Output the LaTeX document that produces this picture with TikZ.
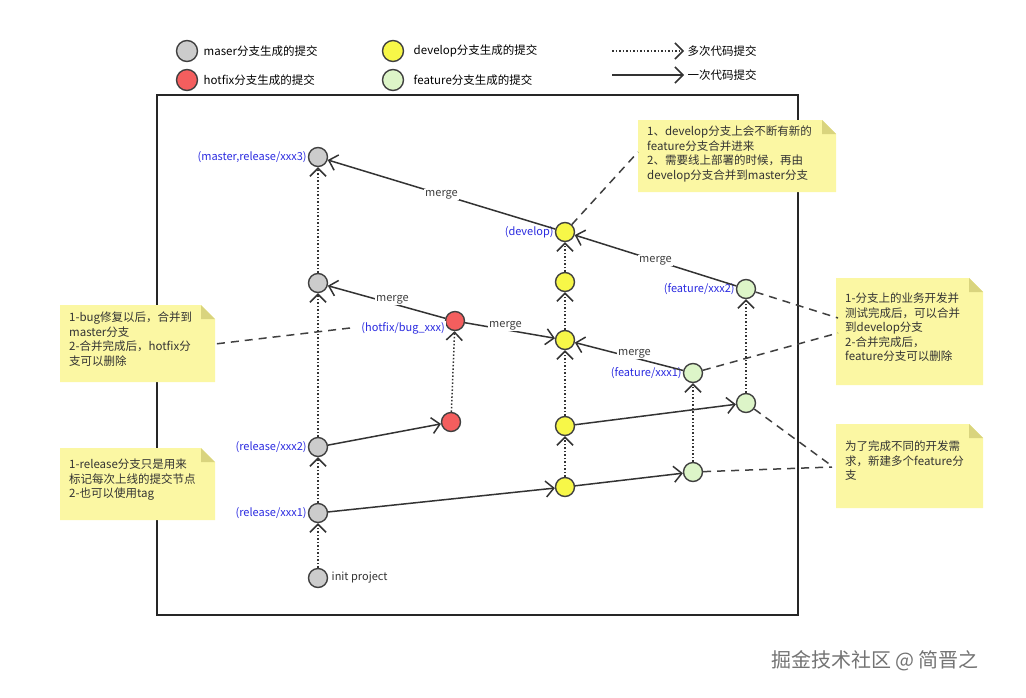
\documentclass[tikz,border=0pt]{standalone}
\usepackage{fontspec}
\setmainfont{Noto Sans CJK SC}
\usetikzlibrary{arrows.meta,shapes.geometric}
\definecolor{notey}{HTML}{FBF7A3}
\definecolor{notefold}{HTML}{D9D47E}
\definecolor{gcirc}{HTML}{CCCCCC}
\definecolor{ycirc}{HTML}{F7F748}
\definecolor{rcirc}{HTML}{F45E5E}
\definecolor{fcirc}{HTML}{DDF5C8}
\definecolor{tagblue}{HTML}{2B2BE0}
\tikzset{
  commit/.style={circle,draw=black!75,line width=1.4pt,minimum size=19pt,inner sep=0pt},
  master/.style={commit,fill=gcirc},
  hotfix/.style={commit,fill=rcirc},
  develop/.style={commit,fill=ycirc},
  feature/.style={commit,fill=fcirc},
  tag/.style={text=tagblue,font=\fontsize{11}{13}\selectfont,inner sep=1pt},
  once/.style={draw=black!80,line width=1.5pt,-{Straight Barb[length=8pt,width=16pt]}},
  many/.style={draw=black!80,line width=1.5pt,dotted,-{Straight Barb[length=8pt,width=16pt]}},
  mergelbl/.style={fill=white,text=black!75,font=\fontsize{11}{13}\selectfont,inner sep=1pt},
  hint/.style={draw=black!75,line width=1.5pt,dash pattern=on 8pt off 6pt},
  txt/.style={font=\fontsize{11.5}{14.5}\selectfont,align=left,text=black!80,anchor=north west,inner sep=0pt}
}
\newcommand{\note}[5]{% x1,y1,x2,y2,name
  \fill[notey] (#1,#2) -- (#3-14,#2) -- (#3,#2+14) -- (#3,#4) -- (#1,#4) -- cycle;
  \fill[notefold] (#3-14,#2) -- (#3,#2+14) -- (#3-14,#2+14) -- cycle;
  \coordinate (#5) at (#1,#2);
}
\begin{document}
\begin{tikzpicture}[x=1pt,y=-1pt]
    \useasboundingbox (0,0) rectangle (1026,697);
    % legend
    \node[master,minimum size=21pt] (lgm) at (187,51) {};
    \node[right=2pt] at (lgm.east) {\fontsize{11.5}{13}\selectfont maser分支生成的提交};
    \node[hotfix,minimum size=21pt] (lgh) at (187,80) {};
    \node[right=2pt] at (lgh.east) {\fontsize{11.5}{13}\selectfont hotfix分支生成的提交};
    \node[develop,minimum size=21pt] (lgd) at (393,51) {};
    \node[right=6pt] at (lgd.east) {\fontsize{11.5}{13}\selectfont develop分支生成的提交};
    \node[feature,minimum size=21pt] (lgf) at (393,80) {};
    \node[right=6pt] at (lgf.east) {\fontsize{11.5}{13}\selectfont feature分支生成的提交};
    \coordinate (lga1) at (612,51); \coordinate (lga2) at (684,51);
    \coordinate (lgb1) at (612,75); \coordinate (lgb2) at (684,75);
    \draw[many] (lga1) -- (lga2);
    \draw[once] (lgb1) -- (lgb2);
    \node[anchor=west] at (lga2) {\fontsize{11.5}{13}\selectfont 多次代码提交};
    \node[anchor=west] at (lgb2) {\fontsize{11.5}{13}\selectfont 一次代码提交};
    % frame
    \draw[line width=1.5pt,black!85] (157,95) rectangle (798,615);
    % notes
    \note{638}{120}{836}{192}{n1}
    \node[txt] at (647,126) {1、develop分支上会不断有新的\\feature分支合并进来\\2、需要线上部署的时候，再由\\develop分支合并到master分支};
    \note{836}{278}{983}{385}{n2}
    \node[txt] at (845,293) {1-分支上的业务开发并\\测试完成后，可以合并\\到develop分支\\2-合并完成后，\\feature分支可以删除};
    \note{836}{424}{983}{508}{n3}
    \node[txt] at (845,441) {为了完成不同的开发需\\求，新建多个feature分\\支};
    \note{60}{305}{215}{382}{n4}
    \node[txt] at (69,312) {1-bug修复以后，合并到\\master分支\\2-合并完成后，hotfix分\\支可以删除};
    \note{60}{448}{215}{520}{n5}
    \node[txt] at (69,459) {1-release分支只是用来\\标记每次上线的提交节点\\2-也可以使用tag};
    % commits
    \node[master] (init) at (318,578) {};
    \node[master] (rel1) at (318,513) {};
    \node[master] (rel2) at (318,447) {};
    \node[master] (mst2) at (318,283) {};
    \node[master] (mst3) at (318,157) {};
    \node[hotfix] (hot1) at (451,422) {};
    \node[hotfix] (hot2) at (455,321) {};
    \node[develop] (dev1) at (565,487) {};
    \node[develop] (dev2) at (565,426) {};
    \node[develop] (dev3) at (565,340) {};
    \node[develop] (dev4) at (565,282) {};
    \node[develop] (dev5) at (565,232) {};
    \node[feature] (fea1a) at (693,472) {};
    \node[feature] (fea1b) at (693,373) {};
    \node[feature] (fea2a) at (746,403) {};
    \node[feature] (fea2b) at (746,289) {};
    \node[anchor=west,text=black!80,font=\fontsize{11}{13}\selectfont] at (init.east) {init project};
    \node[tag,anchor=east] at (mst3.west) {(master,release/xxx3)};
    \node[tag,anchor=east] at (rel2.west) {(release/xxx2)};
    \node[tag,anchor=east] at (rel1.west) {(release/xxx1)};
    \node[tag,anchor=east] at (dev5.west) {(develop)};
    \node[tag,anchor=east] at (fea2b.west) {(feature/xxx2)};
    \node[tag,anchor=east] at (fea1b.west) {(feature/xxx1)};
    % dashed hints
    \draw[hint] (dev5) -- (n1 |- 0,152);
    \draw[hint] (fea2b) -- (838,318);
    \draw[hint] (fea1b) -- (838,333);
    \draw[hint] (fea2a) -- (832,466);
    \draw[hint] (fea1a) -- (832,467);
    \draw[hint] (350,328) -- (215,344);
    \node[tag,anchor=east,fill=white] at (446,328) {(hotfix/bug\_xxx)};
    % branch lines
    \draw[many] (init) -- (rel1);
    \draw[many] (rel1) -- (rel2);
    \draw[many] (rel2) -- (mst2);
    \draw[many] (mst2) -- (mst3);
    \draw[many] (hot1) -- (hot2);
    \draw[many] (dev1) -- (dev2);
    \draw[many] (dev2) -- (dev3);
    \draw[many] (dev3) -- (dev4);
    \draw[many] (dev4) -- (dev5);
    \draw[many] (fea1a) -- (fea1b);
    \draw[many] (fea2a) -- (fea2b);
    \draw[once] (rel1) -- (dev1);
    \draw[once] (rel2) -- (hot1);
    \draw[once] (dev1) -- (fea1a);
    \draw[once] (dev2) -- (fea2a);
    \draw[once] (hot2) -- node[mergelbl,pos=0.45,above=-2pt] {merge} (mst2);
    \draw[once] (hot2) -- node[mergelbl,pos=0.45,above=-2pt] {merge} (dev3);
    \draw[once] (fea1b) -- node[mergelbl,pos=0.45,above=-2pt] {merge} (dev3);
    \draw[once] (fea2b) -- node[mergelbl,pos=0.5] {merge} (dev5);
    \draw[once] (dev5) -- node[mergelbl,pos=0.5] {merge} (mst3);
    % watermark
    \node[text=black!55,font=\fontsize{20}{24}\selectfont] at (875,661) {掘金技术社区 @ 简晋之};
\end{tikzpicture}
\end{document}
